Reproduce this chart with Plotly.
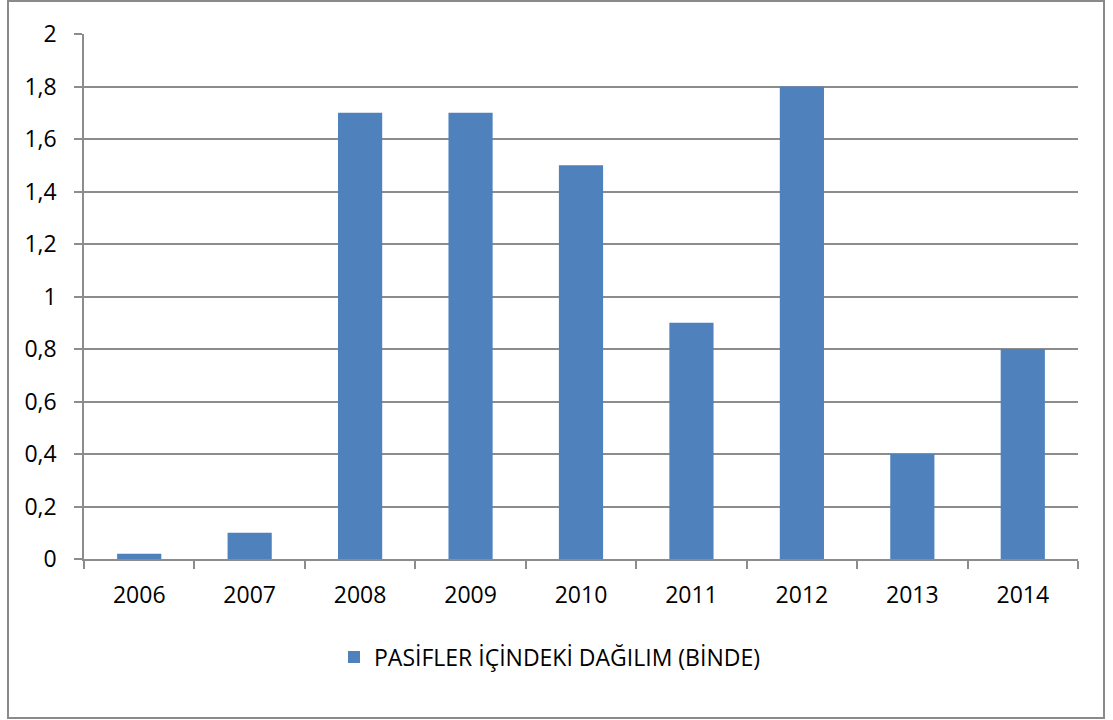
import plotly.graph_objects as go

# Yearly share within liabilities (per mille)
years = ["2006", "2007", "2008", "2009", "2010", "2011", "2012", "2013", "2014"]
values = [0.02, 0.1, 1.7, 1.7, 1.5, 0.9, 1.8, 0.4, 0.8]
series_name = "PASİFLER İÇİNDEKİ DAĞILIM (BİNDE)"

W, H = 1113, 720
L, R, T, B = 84, 35, 34, 161
pw, ph = W - L - R, H - T - B

font_family = "Open Sans, sans-serif"
grid = "#8c8c8c"

fig = go.Figure(
    go.Bar(
        x=years,
        y=values,
        name=series_name,
        marker=dict(color="#4F81BD", line=dict(width=0)),
        showlegend=True,
    )
)

# Outer chart border
bx0, bx1 = 8, 1104
by0, by1 = 1, 718
fig.add_shape(
    type="rect",
    xref="paper", yref="paper",
    x0=(bx0 - L) / pw, x1=(bx1 - L) / pw,
    y0=(H - B - by1) / ph, y1=(H - B - by0) / ph,
    line=dict(color="#8a8a8a", width=2),
    fillcolor="rgba(0,0,0,0)",
    layer="below",
)

fig.update_layout(
    width=W, height=H,
    margin=dict(l=L, r=R, t=T, b=B, pad=0),
    paper_bgcolor="white",
    plot_bgcolor="white",
    separators=",.",
    bargap=0.6,
    font=dict(family=font_family, size=23, color="#000000"),
    showlegend=True,
    legend=dict(
        orientation="h",
        x=(334 - L) / pw, xanchor="left",
        y=(H - B - 657) / ph, yanchor="middle",
        font=dict(size=23),
        itemwidth=30,
        bgcolor="rgba(0,0,0,0)",
    ),
    xaxis=dict(
        showgrid=False,
        showline=True, linecolor=grid, linewidth=1.5,
        ticks="outside", ticklen=8, tickcolor=grid, tickwidth=1.5,
        tickson="boundaries",
        ticklabelstandoff=15,
        tickfont=dict(size=23),
    ),
    yaxis=dict(
        range=[0, 2],
        tick0=0, dtick=0.2,
        showgrid=True, gridcolor=grid, gridwidth=1.5,
        showline=True, linecolor=grid, linewidth=1.5,
        zeroline=False,
        ticks="outside", ticklen=8, tickcolor=grid, tickwidth=1.5,
        ticklabelstandoff=13,
        tickfont=dict(size=23),
    ),
)

fig.write_html("out.html")
